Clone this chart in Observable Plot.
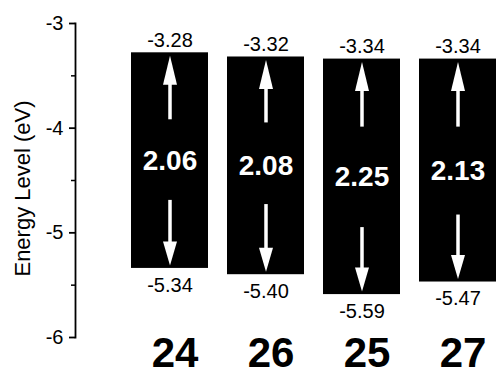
<!DOCTYPE html>
<html>
<head>
<meta charset="utf-8">
<script src="https://cdn.jsdelivr.net/npm/d3@7"></script>
<script src="https://cdn.jsdelivr.net/npm/@observablehq/plot@0.6"></script>
<style>
  html, body { margin: 0; padding: 0; background: #fff; }
</style>
</head>
<body>
<div id="chart"></div>
<script>
const names = ["24", "26", "25", "27"];
const lumo = [-3.28, -3.32, -3.34, -3.34];
const homo = [-5.34, -5.40, -5.59, -5.47];
const gap = [2.06, 2.08, 2.25, 2.13];
const upFrom = [-3.92, -3.95, -3.99, -3.99];
const downFrom = [-4.69, -4.73, -4.95, -4.83];
const yTicks = [-3, -4, -5, -6];
const yMinor = [-3.5, -4.5, -5.5];
const yLabel = "Energy Level (eV)";

const data = names.map((name, i) => ({
  name, lumo: lumo[i], homo: homo[i], gap: gap[i],
  upFrom: upFrom[i], downFrom: downFrom[i],
  upTo: upFrom[i] + 0.75 * (lumo[i] - upFrom[i]),
  downTo: downFrom[i] + 0.75 * (homo[i] - downFrom[i]),
  mid: (lumo[i] + homo[i]) / 2
}));

const upHead = {draw(ctx) { ctx.moveTo(0, 0); ctx.lineTo(7, 29); ctx.lineTo(-7, 29); ctx.closePath(); }};
const downHead = {draw(ctx) { ctx.moveTo(0, 0); ctx.lineTo(7, -24); ctx.lineTo(-7, -24); ctx.closePath(); }};

const font = "'Liberation Sans', Arial, Helvetica, sans-serif";

const chart = Plot.plot({
  width: 496,
  height: 376,
  marginLeft: 75,
  marginRight: 0,
  marginTop: 23,
  marginBottom: 39,
  style: {fontFamily: font, background: "white", color: "black"},
  x: {type: "band", domain: names, paddingInner: 0.2, paddingOuter: 0.2927, align: 1},
  y: {domain: [-6, -3]},
  marks: [
    Plot.frame({anchor: "left", stroke: "black", strokeWidth: 1.8}),
    Plot.axisY({ticks: yTicks, tickSize: 6, tickPadding: 6, stroke: "black", strokeWidth: 1.8,
      tickFormat: d => String(d), fontSize: 20, label: null}),
    Plot.axisY({ticks: yMinor, tickSize: 4, stroke: "black", strokeWidth: 1.5, tickFormat: () => "", label: null}),
    Plot.axisX({tickSize: 0, tickPadding: 0, fontSize: 42, fontWeight: "bold", dx: 5, label: null}),
    Plot.text([yLabel], {frameAnchor: "left", textAnchor: "middle", rotate: -90, dx: -53, dy: 8, fontSize: 22}),
    Plot.barY(data, {x: "name", y1: "homo", y2: "lumo", fill: "black"}),
    Plot.ruleX(data, {x: "name", y1: "upFrom", y2: "upTo", stroke: "white", strokeWidth: 3.5}),
    Plot.ruleX(data, {x: "name", y1: "downFrom", y2: "downTo", stroke: "white", strokeWidth: 3.5}),
    Plot.dot(data, {x: "name", y: "lumo", dy: 3, symbol: upHead, r: 5, fill: "white", stroke: "none"}),
    Plot.dot(data, {x: "name", y: "homo", dy: -3, symbol: downHead, r: 5, fill: "white", stroke: "none"}),
    Plot.text(data, {x: "name", y: "mid", text: d => d.gap.toFixed(2), fill: "white",
      fontSize: 28, fontWeight: "bold"}),
    Plot.text(data, {x: "name", y: "lumo", text: d => d.lumo.toFixed(2), lineAnchor: "bottom",
      dy: -6, fontSize: 20, fill: "black"}),
    Plot.text(data, {x: "name", y: "homo", text: d => d.homo.toFixed(2), lineAnchor: "top",
      dy: 9, fontSize: 20, fill: "black"})
  ]
});
document.getElementById("chart").appendChild(chart);
</script>
</body>
</html>
